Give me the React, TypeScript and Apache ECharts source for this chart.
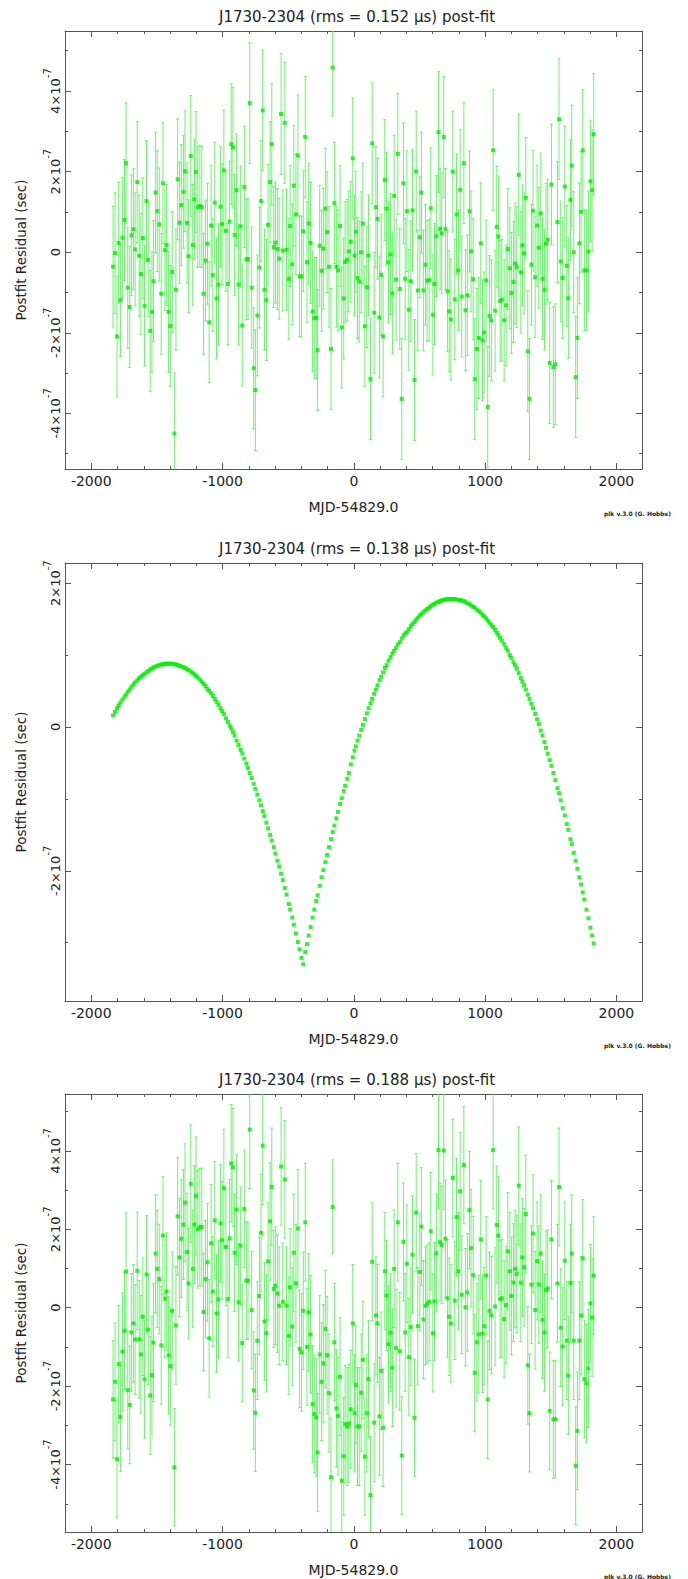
import React, { useEffect, useRef } from "react";
import * as echarts from "echarts";

// ---------- data (residuals in units of 1e-7 s) ----------
const RES_UNIT = 1e-7;

const rmsValues = [0.152, 0.138, 0.188];

// TOA epochs, MJD - 54829.0 (days)
const mjd = [
  -1834, -1819, -1804, -1791, -1778, -1763, -1747, -1735, -1722, -1707,
  -1694, -1679, -1666, -1650, -1635, -1622, -1607, -1594, -1579, -1566,
  -1551, -1538, -1526, -1510, -1497, -1482, -1467, -1454, -1439, -1426,
  -1411, -1398, -1383, -1367, -1355, -1342, -1327, -1314, -1298, -1286,
  -1270, -1258, -1242, -1227, -1214, -1202, -1189, -1173, -1158, -1145,
  -1130, -1115, -1102, -1087, -1074, -1059, -1046, -1031, -1015, -1003,
  -990, -974, -959, -946, -934, -921, -908, -893, -878, -862,
  -850, -834, -819, -806, -793, -778, -763, -750, -735, -719,
  -707, -694, -681, -666, -653, -638, -625, -610, -597, -582,
  -569, -554, -541, -526, -513, -495, -485, -469, -457, -441,
  -426, -413, -398, -385, -370, -357, -344, -329, -314, -301,
  -286, -276, -260, -245, -232, -217, -204, -189, -174, -161,
  -148, -133, -120, -105, -92, -77, -66, -51, -38, -23,
  -8, 5, 15,
  28, 41, 56, 69, 84, 99, 112, 127, 140, 155,
  168, 180, 195, 208, 223, 236, 249, 264, 279, 294,
  307, 322, 335, 350, 365, 378, 391, 404, 419, 434,
  447, 462, 475, 487, 503, 515, 530, 546, 558, 574,
  586, 602, 614, 629, 645, 657, 670, 685, 698, 713,
  726, 739, 754, 769, 782, 797, 810, 822, 838, 850,
  865, 881, 893, 909, 921, 937, 952, 967, 980, 992,
  1008, 1020, 1033, 1048, 1061, 1076, 1089, 1101, 1114, 1127,
  1145, 1160, 1173, 1188, 1200, 1216, 1228, 1241, 1256, 1272,
  1284, 1297, 1310, 1325, 1338, 1353, 1365, 1381, 1396, 1409,
  1424, 1437, 1452, 1464, 1477, 1492, 1505, 1520, 1535, 1551,
  1563, 1576, 1591, 1607, 1622, 1634, 1650, 1660, 1675, 1690,
  1703, 1718, 1731, 1744, 1756, 1772, 1787, 1802, 1815, 1827,
];

// TOA uncertainties (1e-7 s)
const toaErr = [
  1.5, 1.5, 1.5, 1.5, 1.4, 1.5, 1.5, 1.5, 1.5, 1.5,
  1.5, 1.5, 1.4, 1.5, 1.5, 1.5, 1.5, 1.5, 1.5, 1.4,
  1.5, 1.5, 1.5, 1.5, 1.5, 1.4, 1.5, 1.5, 1.5, 1.5,
  1.5, 1.5, 1.5, 1.5, 1.5, 1.5, 1.5, 1.5, 1.4, 1.5,
  1.5, 1.4, 1.5, 1.5, 1.5, 1.5, 1.5, 1.5, 1.5, 1.5,
  1.5, 1.5, 1.5, 1.5, 1.4, 1.5, 1.5, 1.5, 1.5, 1.5,
  1.5, 1.5, 1.5, 1.5, 1.5, 1.5, 1.5, 1.4, 1.5, 1.5,
  1.5, 1.5, 1.5, 1.5, 1.5, 1.5, 1.5, 1.5, 1.5, 1.5,
  1.5, 1.5, 1.5, 1.5, 1.5, 1.5, 1.5, 1.5, 1.5, 1.5,
  1.5, 1.5, 1.5, 1.5, 1.5, 1.5, 1.5, 1.5, 1.5, 1.5,
  1.5, 1.5, 1.5, 1.5, 1.5, 1.5, 1.5, 1.5, 1.5, 1.5,
  1.5, 1.5, 1.5, 1.5, 1.5, 1.5, 1.5, 1.5, 1.5, 1.2,
  1.5, 1.5, 1.5, 1.5, 1.5, 1.5, 1.5, 1.5, 1.5, 1.5,
  1.5, 1.5, 1.5,
  1.5, 1.5, 1.5, 1.5, 1.5, 1.5, 1.5, 1.5, 1.5, 1.5,
  1.5, 1.5, 1.5, 1.5, 1.5, 1.5, 1.4, 1.5, 1.5, 1.5,
  1.5, 1.5, 1.5, 1.5, 1.5, 1.5, 1.5, 1.5, 1.5, 1.5,
  1.5, 1.5, 1.5, 1.5, 1.5, 1.5, 1.5, 1.5, 1.5, 1.5,
  1.5, 1.5, 1.5, 1.5, 1.5, 1.5, 1.5, 1.5, 1.5, 1.5,
  1.5, 1.5, 1.5, 1.5, 1.5, 1.5, 1.5, 1.5, 1.5, 1.5,
  1.5, 1.5, 1.5, 1.5, 1.5, 1.5, 1.5, 1.5, 1.5, 1.5,
  1.5, 1.5, 1.5, 1.5, 1.5, 1.5, 1.5, 1.5, 1.5, 1.5,
  1.5, 1.5, 1.5, 1.5, 1.5, 1.5, 1.5, 1.5, 1.5, 1.5,
  1.5, 1.5, 1.5, 1.5, 1.5, 1.5, 1.5, 1.5, 1.5, 1.5,
  1.5, 1.5, 1.5, 1.5, 1.5, 1.5, 1.5, 1.5, 1.5, 1.5,
  1.5, 1.5, 1.5, 1.5, 1.5, 1.5, 1.5, 1.5, 1.5, 1.5,
  1.5, 1.5, 1.5, 1.5, 1.5, 1.5, 1.5, 1.5, 1.5, 1.5,
];

// panel 1 residuals (1e-7 s)
const residualsA = [
  -0.36, -0.02, -2.09, 0.23, -1.19, 0.36, 0.80, 2.21, -0.88, -1.36,
  0.42, 0.57, 0.07, 1.74, -0.09, -0.54, 0.35, -1.33, 1.27, -0.19,
  -1.95, -1.48, -0.72, 1.48, 1.02, 0.69, -1.03, 1.71, 0.05, 0.18,
  -1.48, -1.83, -0.49, -4.50, -0.93, 1.81, 0.73, 1.17, 1.50, 2.01,
  0.73, -0.10, 2.39, 0.18, 1.31, 1.99, 1.12, 1.15, 1.12, -1.03,
  -0.21, 0.21, -1.74, 0.66, -0.57, 1.23, -1.15, -0.80, 1.13, 0.70,
  2.03, 0.53, -0.79, 0.76, 2.68, 2.60, 0.43, 1.54, -0.80, 0.64,
  -1.82, 1.62, -0.18, -0.17, 3.70, -0.88, -2.88, -3.42, -1.57, -0.38,
  1.27, 3.52, -0.93, -1.19, 0.68, 1.74, 2.68, 0.13, 0.24, 0.08,
  -0.16, 3.43, 0.04, 3.21, 0.06, -0.66, 0.65, -0.30, 1.65, 0.94,
  2.40, -0.60, -0.60, 0.52, 2.86, -0.25, 0.71, 0.23, -1.47, -1.63,
  -1.63, -2.43, 0.16, -0.46, 0.09, 1.08, 0.50, -0.36, -2.40, 4.58,
  1.22, -0.36, -0.45, 0.65, -1.87, -1.15, -0.24, -0.19, 0.02, 0.26,
  2.33, -0.08, 0.51,
  -0.64, -0.73, 0.00, 0.71, -1.84, -0.87, -0.08, -3.15, 2.70, -1.50,
  1.12, 0.83, -1.62, -0.56, -2.09, 1.79, 1.08, -0.25, -0.05, -1.02,
  1.40, -0.68, 2.44, -0.91, -3.64, 1.71, -0.66, 1.02, -1.43, -0.72,
  1.04, -3.17, 2.00, -0.95, 0.37, 1.48, -0.95, -0.31, -0.71, -0.69,
  1.09, -1.55, -0.79, 0.40, 2.98, 0.58, 0.47, 2.86, 0.58, -0.97,
  -1.47, -1.67, 2.00, -1.17, 0.94, -0.45, 1.55, -1.10, 2.21, -1.44,
  -1.07, 1.01, 0.02, -0.67, -3.15, -2.40, -2.13, 0.22, -2.19, -1.99,
  -0.70, -3.84, -1.58, -1.69, 2.53, -1.45, 0.63, 0.39, -1.21, -1.18,
  -1.69, -1.32, 0.08, -0.40, -1.01, -0.74, -0.28, -0.37, 1.92, -0.50,
  0.17, -0.03, 1.35, -2.46, -3.64, -0.31, 1.03, -0.62, 0.66, 0.11,
  0.96, -0.66, -0.93, 0.21, 0.31, -2.75, 1.68, -2.85, -2.78, 0.75,
  3.30, -0.23, -0.64, 1.63, -0.34, -1.14, 1.30, 2.15, 0.00, -3.10,
  -2.13, 0.22, 1.00, 2.53, -0.45, -0.45, 0.02, 1.76, 1.54, 2.93,
];

// panel 2 residuals (1e-7 s)
const residualsB = [
  0.16, 0.21, 0.26, 0.30, 0.34, 0.38, 0.42, 0.45, 0.49, 0.52,
  0.56, 0.59, 0.62, 0.65, 0.68, 0.70, 0.72, 0.74, 0.76, 0.78,
  0.80, 0.81, 0.83, 0.84, 0.85, 0.86, 0.87, 0.87, 0.88, 0.88,
  0.88, 0.88, 0.88, 0.87, 0.87, 0.86, 0.85, 0.84, 0.83, 0.82,
  0.80, 0.79, 0.77, 0.75, 0.73, 0.71, 0.69, 0.66, 0.63, 0.60,
  0.57, 0.53, 0.50, 0.47, 0.43, 0.39, 0.35, 0.31, 0.26, 0.22,
  0.18, 0.12, 0.07, 0.02, -0.02, -0.07, -0.12, -0.19, -0.25, -0.32,
  -0.37, -0.44, -0.51, -0.57, -0.64, -0.71, -0.79, -0.86, -0.94, -1.02,
  -1.09, -1.17, -1.24, -1.33, -1.41, -1.50, -1.58, -1.67, -1.76, -1.86,
  -1.94, -2.04, -2.13, -2.24, -2.33, -2.46, -2.54, -2.65, -2.75, -2.87,
  -2.99, -3.09, -3.21, -3.30, -3.13, -3.02, -2.90, -2.78, -2.65, -2.54,
  -2.42, -2.34, -2.21, -2.09, -1.99, -1.88, -1.78, -1.67, -1.56, -1.46,
  -1.37, -1.27, -1.18, -1.07, -0.99, -0.89, -0.82, -0.72, -0.64, -0.52,
  -0.42, -0.33, -0.27,
  -0.19, -0.12, -0.04, 0.03, 0.11, 0.19, 0.26, 0.33, 0.39, 0.46,
  0.52, 0.58, 0.65, 0.70, 0.76, 0.82, 0.86, 0.92, 0.97, 1.02,
  1.06, 1.10, 1.15, 1.18, 1.23, 1.27, 1.30, 1.32, 1.36, 1.40,
  1.43, 1.46, 1.49, 1.52, 1.55, 1.57, 1.60, 1.62, 1.64, 1.66,
  1.68, 1.70, 1.71, 1.73, 1.74, 1.75, 1.76, 1.77, 1.77, 1.78,
  1.78, 1.78, 1.78, 1.78, 1.77, 1.77, 1.76, 1.76, 1.75, 1.74,
  1.72, 1.71, 1.69, 1.67, 1.66, 1.63, 1.61, 1.59, 1.56, 1.54,
  1.51, 1.48, 1.45, 1.42, 1.39, 1.35, 1.31, 1.28, 1.24, 1.20,
  1.15, 1.10, 1.06, 1.00, 0.96, 0.90, 0.86, 0.81, 0.75, 0.68,
  0.63, 0.58, 0.52, 0.45, 0.39, 0.32, 0.26, 0.18, 0.11, 0.04,
  -0.05, -0.12, -0.21, -0.29, -0.37, -0.46, -0.54, -0.64, -0.74, -0.85,
  -0.92, -1.02, -1.13, -1.23, -1.35, -1.43, -1.56, -1.63, -1.75, -1.86,
  -1.97, -2.09, -2.19, -2.30, -2.40, -2.54, -2.66, -2.79, -2.90, -3.01,
];

// panel 3 residuals (1e-7 s)
const residualsC = [
  -2.34, -1.89, -3.86, -1.44, -2.78, -1.12, -0.59, 0.92, -2.10, -2.48,
  -0.63, -0.40, -0.81, 0.94, -0.81, -1.19, -0.23, -1.83, 0.85, -0.56,
  -2.24, -1.72, -0.89, 1.38, 0.99, 0.73, -0.96, 1.84, 0.23, 0.41,
  -1.21, -1.49, -0.08, -4.07, -0.45, 2.33, 1.28, 1.76, 2.12, 2.68,
  1.42, 0.62, 3.16, 0.99, 2.12, 2.85, 2.00, 2.05, 2.06, -0.11,
  0.73, 1.16, -0.78, 1.64, 0.41, 2.23, -0.15, 0.21, 2.15, 1.72,
  3.05, 1.55, 0.22, 1.77, 3.68, 3.58, 1.40, 2.50, 0.14, 1.58,
  -0.90, 2.52, 0.69, 0.69, 4.54, -0.06, -2.11, -2.68, -0.84, 0.30,
  1.91, 4.13, -0.35, -0.65, 1.18, 2.20, 3.08, 0.48, 0.56, 0.36,
  0.05, 3.60, 0.15, 3.27, 0.05, -0.72, 0.52, -0.48, 1.40, 0.62,
  2.02, -1.05, -1.14, -0.08, 2.18, -1.00, -0.12, -0.68, -2.46, -2.71,
  -2.80, -3.69, -1.19, -1.89, -1.42, -0.54, -1.21, -2.18, -4.32, 2.57,
  -0.88, -2.57, -2.76, -1.76, -4.41, -3.79, -2.97, -3.03, -2.95, -2.59,
  -0.40, -2.69, -1.97,
  -3.03, -3.03, -2.17, -1.33, -3.80, -2.69, -1.82, -4.78, 1.17, -2.93,
  -0.20, -0.40, -2.77, -1.61, -3.06, 0.93, 0.31, -0.93, -0.64, -1.53,
  0.99, -1.03, 2.18, -1.11, -3.77, 1.68, -0.63, 1.12, -1.26, -0.49,
  1.35, -2.81, 2.43, -0.47, 0.91, 2.07, -0.30, 0.05, 0.10, 0.15,
  1.95, -0.65, 0.16, 1.39, 4.02, 1.67, 1.60, 4.01, 1.76, 0.24,
  -0.23, -0.40, 3.31, 0.18, 2.31, 0.93, 2.97, 0.33, 3.64, 0.01,
  0.39, 2.49, 1.52, 0.83, -1.66, -0.88, -0.68, 1.74, -0.66, -0.47,
  0.82, -2.34, -0.08, -0.19, 4.02, 0.03, 2.11, 1.84, 0.22, 0.24,
  -0.29, 0.07, 1.44, 0.93, 0.30, 0.64, 0.99, 0.86, 3.11, 0.64,
  1.28, 1.03, 2.39, -1.47, -2.69, 0.59, 1.89, -0.06, 1.19, 0.59,
  1.38, -0.31, -0.63, 0.45, 0.49, -2.63, 1.74, -2.85, -2.84, 0.62,
  3.08, -0.51, -0.99, 1.20, -0.84, -1.73, 0.63, 1.38, -0.84, -4.03,
  -3.14, -0.84, -0.20, 1.26, -1.82, -1.93, -1.55, 0.11, -0.25, 0.82,
];

// axis ticks / ranges
const xMajorTicks = [-2000, -1000, 0, 1000, 2000];
const xMinorTicks = [-1800, -1600, -1400, -1200, -800, -600, -400, -200, 200, 400, 600, 800, 1200, 1400, 1600, 1800];
const xRange = [-2200, 2195];
const yRanges = [[-5.38, 5.49], [-3.81, 2.28], [-5.72, 5.45]];
const yMajorTicks = [[-4, -2, 0, 2, 4], [-2, 0, 2], [-4, -2, 0, 2, 4]];
const yMinorTicks = [[-5, -3, -1, 1, 3, 5], [-3, -1, 1], [-5, -3, -1, 1, 3, 5]];
const showErrorBars = [true, false, true];

// ---------- layout / style ----------
const PANEL_OFFSET = [0, 532, 1063];
const FONT = "DejaVu Sans";
const TEXT = "#222";
const FRAME = "#555";
const POINT = "#00ee00";
const BAR = "#72f072";

const panelResiduals = [residualsA, residualsB, residualsC];

function buildOption() {
  const grid: any[] = [];
  const xAxis: any[] = [];
  const yAxis: any[] = [];
  const series: any[] = [];
  const title: any[] = [];

  for (let k = 0; k < 3; k++) {
    const off = PANEL_OFFSET[k];
    grid.push({ left: 65, right: 46, top: 31 + off, height: 438 });

    title.push({
      text: `J1730-2304 (rms = ${rmsValues[k].toFixed(3)} μs) post-fit`,
      left: 357,
      top: 9 + off,
      textAlign: "center",
      padding: 0,
      textStyle: { fontFamily: FONT, fontSize: 15, fontWeight: "normal", color: TEXT },
    });
    title.push({
      text: "plk v.3.0 (G. Hobbs)",
      left: 604,
      top: 510 + off,
      padding: 0,
      textStyle: { fontFamily: FONT, fontSize: 6, fontWeight: "bold", color: TEXT },
    });

    const lineStyle = { color: FRAME, width: 1 };
    const xBase = { gridIndex: k, type: "value", min: xRange[0], max: xRange[1], splitLine: { show: false } };
    xAxis.push({
      ...xBase,
      position: "bottom",
      axisLine: { show: true, onZero: false, lineStyle },
      axisTick: { show: true, inside: true, length: 6, customValues: xMajorTicks, lineStyle },
      axisLabel: {
        show: true, customValues: xMajorTicks, margin: 5,
        fontFamily: FONT, fontSize: 14, color: TEXT,
        formatter: (v: number) => String(Math.round(v)),
      },
      name: "MJD-54829.0",
      nameLocation: "middle",
      nameGap: 31,
      nameTextStyle: { fontFamily: FONT, fontSize: 14, color: TEXT },
    });
    xAxis.push({
      ...xBase,
      position: "bottom",
      axisLine: { show: false, onZero: false },
      axisTick: { show: true, inside: true, length: 3, customValues: xMinorTicks, lineStyle },
      axisLabel: { show: false },
    });
    xAxis.push({
      ...xBase,
      position: "top",
      axisLine: { show: true, onZero: false, lineStyle },
      axisTick: { show: true, inside: true, length: 6, customValues: xMajorTicks, lineStyle },
      axisLabel: { show: false },
    });
    xAxis.push({
      ...xBase,
      position: "top",
      axisLine: { show: false, onZero: false },
      axisTick: { show: true, inside: true, length: 3, customValues: xMinorTicks, lineStyle },
      axisLabel: { show: false },
    });

    const major = yMajorTicks[k].map((v) => v * RES_UNIT);
    const minor = yMinorTicks[k].map((v) => v * RES_UNIT);
    const yBase = {
      gridIndex: k, type: "value",
      min: yRanges[k][0] * RES_UNIT, max: yRanges[k][1] * RES_UNIT,
      splitLine: { show: false },
    };
    yAxis.push({
      ...yBase,
      position: "left",
      axisLine: { show: true, onZero: false, lineStyle },
      axisTick: { show: true, inside: true, length: 6, customValues: major, lineStyle },
      axisLabel: {
        show: true, customValues: major, rotate: 90, margin: 3,
        formatter: (v: number) => {
          const n = Math.round(v / RES_UNIT);
          return n === 0 ? "{b|0}" : `{b|${n}×10}{s|-7}`;
        },
        rich: {
          b: { fontFamily: FONT, fontSize: 13, color: TEXT, lineHeight: 20, verticalAlign: "bottom" },
          s: { fontFamily: FONT, fontSize: 10, color: TEXT, lineHeight: 11, verticalAlign: "top" },
        },
      },
      name: "Postfit Residual (sec)",
      nameLocation: "middle",
      nameRotate: 90,
      nameGap: 37,
      nameTextStyle: { fontFamily: FONT, fontSize: 13.5, color: TEXT },
    });
    yAxis.push({
      ...yBase,
      position: "left",
      axisLine: { show: false, onZero: false },
      axisTick: { show: true, inside: true, length: 3, customValues: minor, lineStyle },
      axisLabel: { show: false },
    });
    yAxis.push({
      ...yBase,
      position: "right",
      axisLine: { show: true, onZero: false, lineStyle },
      axisTick: { show: true, inside: true, length: 6, customValues: major, lineStyle },
      axisLabel: { show: false },
    });
    yAxis.push({
      ...yBase,
      position: "right",
      axisLine: { show: false, onZero: false },
      axisTick: { show: true, inside: true, length: 3, customValues: minor, lineStyle },
      axisLabel: { show: false },
    });

    const res = panelResiduals[k];
    if (showErrorBars[k]) {
      series.push({
        type: "custom",
        coordinateSystem: "cartesian2d",
        xAxisIndex: 4 * k,
        yAxisIndex: 4 * k,
        clip: true,
        silent: true,
        data: mjd.map((x, i) => [x, res[i] * RES_UNIT, toaErr[i] * RES_UNIT]),
        encode: { x: 0, y: 1 },
        renderItem: (params: any, api: any) => {
          const x = api.value(0);
          const y = api.value(1);
          const e = api.value(2);
          const top = api.coord([x, y + e]);
          const bot = api.coord([x, y - e]);
          const style = { stroke: BAR, lineWidth: 1 };
          return {
            type: "group",
            children: [
              { type: "line", shape: { x1: top[0], y1: top[1], x2: bot[0], y2: bot[1] }, style },
              { type: "line", shape: { x1: top[0] - 1.5, y1: top[1], x2: top[0] + 1.5, y2: top[1] }, style },
              { type: "line", shape: { x1: bot[0] - 1.5, y1: bot[1], x2: bot[0] + 1.5, y2: bot[1] }, style },
            ],
          };
        },
      });
    }
    series.push({
      type: "scatter",
      xAxisIndex: 4 * k,
      yAxisIndex: 4 * k,
      symbol: "rect",
      symbolSize: 4,
      itemStyle: { color: POINT },
      clip: true,
      silent: true,
      data: mjd.map((x, i) => [x, res[i] * RES_UNIT]),
    });
  }

  return {
    animation: false,
    backgroundColor: "#ffffff",
    title,
    grid,
    xAxis,
    yAxis,
    series,
  };
}

export default function App() {
  const ref = useRef<HTMLDivElement>(null);
  useEffect(() => {
    document.body.style.margin = "0";
    if (!ref.current) return;
    const chart = echarts.init(ref.current, null, { renderer: "svg" });
    chart.setOption(buildOption() as any);
    return () => chart.dispose();
  }, []);
  return <div ref={ref} style={{ width: 688, height: 1579 }} />;
}
